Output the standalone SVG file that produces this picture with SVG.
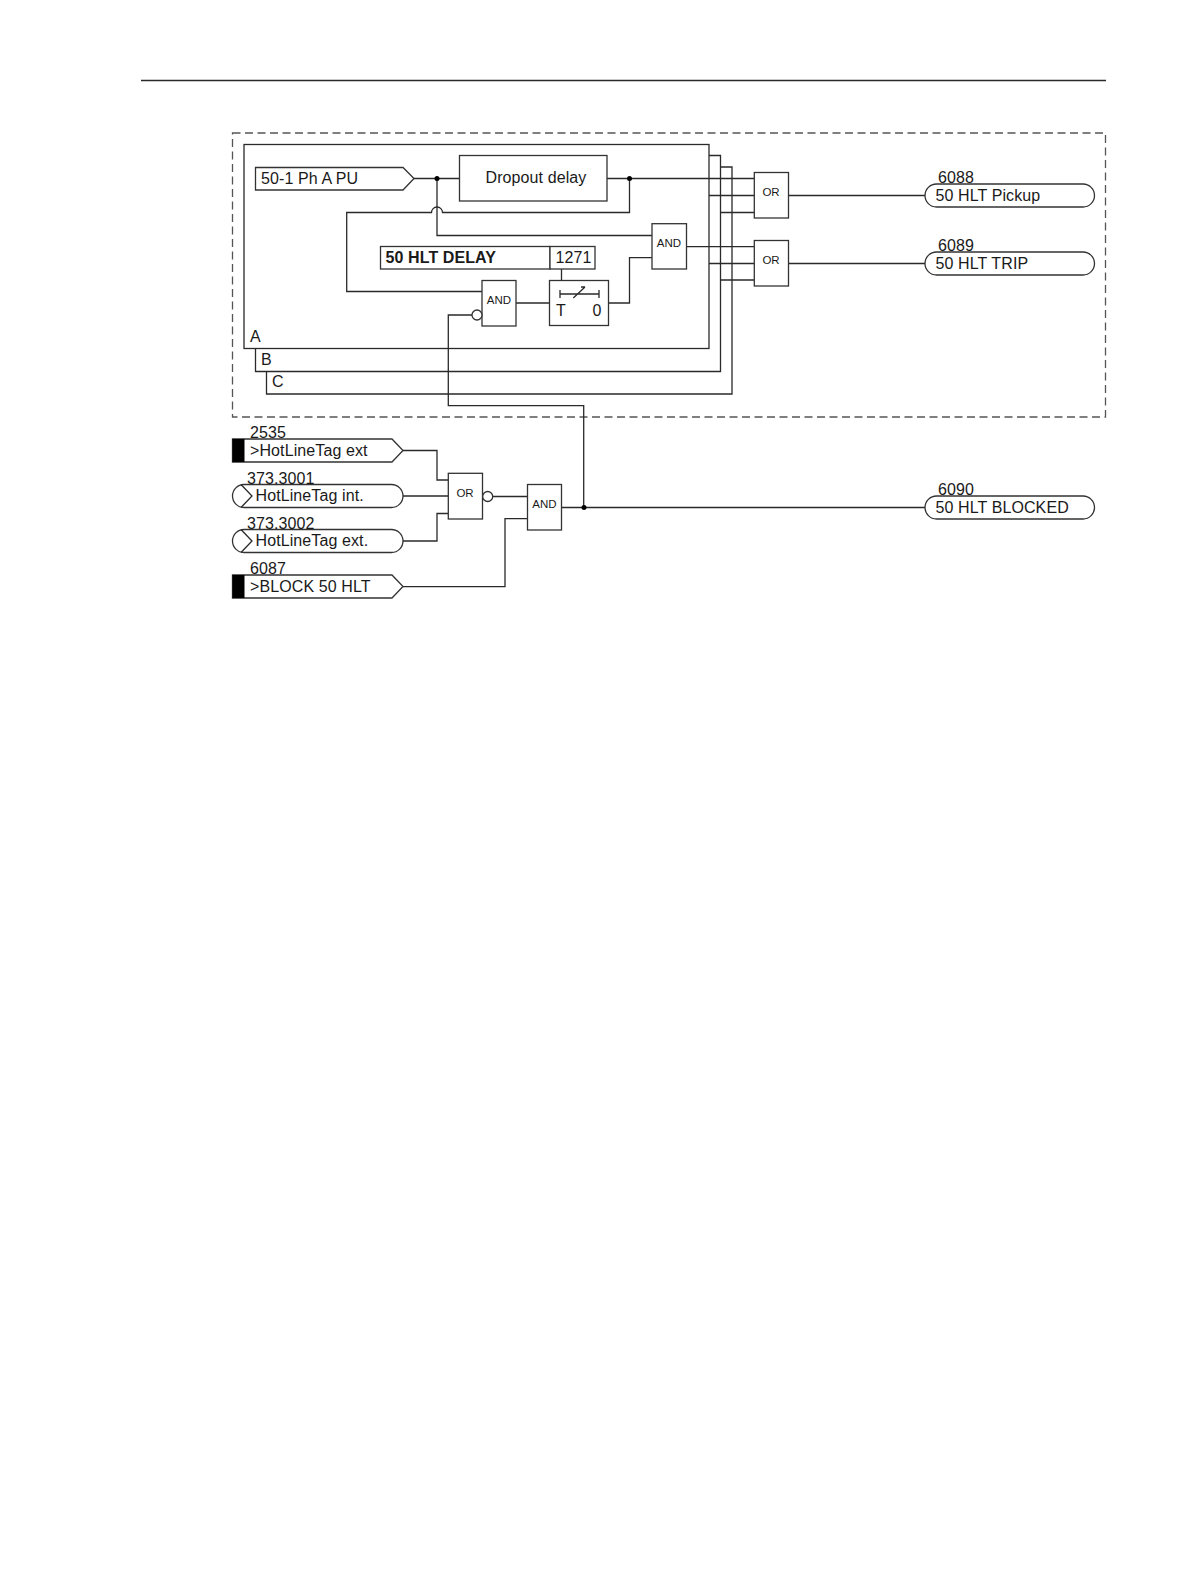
<svg xmlns="http://www.w3.org/2000/svg" width="1191" height="1587" viewBox="0 0 1191 1587">
<defs><style>
.s{fill:none;stroke:#2a2a2a;stroke-width:1.3}
.b{fill:#fff;stroke:#333;stroke-width:1.3}
.t{font-family:"Liberation Sans",Arial,sans-serif;font-size:16px;letter-spacing:.1px;fill:#1a1a1a}
.g{font-family:"Liberation Sans",Arial,sans-serif;font-size:11.5px;fill:#1a1a1a;text-anchor:middle}
.d{fill:#000}
</style></defs>
<rect width="1191" height="1587" fill="#fff"/>
<path id="header-rule" class="s" d="M141 80.500H1106"/>
<rect id="scope" x="232.500" y="133" width="873" height="284" fill="none" stroke="#555" stroke-width="1.300" stroke-dasharray="8 4.500"/>
<g id="phase-frames">
<path class="s" d="M709 155.500H720.500V371.500H255.500V348.500"/>
<path class="s" d="M720.500 167H732V394H266.500V371.500"/>
<rect class="s" x="244" y="144.500" width="465" height="204"/>
<text class="t" x="250" y="342">A</text><text class="t" x="261" y="365">B</text><text class="t" x="272" y="387">C</text>
</g>
<g id="connectors">
<path class="s" d="M414 178.500H459.500"/>
<path class="s" d="M437 178.500V235.500H652"/>
<path class="s" d="M607 178.500H754.300"/>
<path class="s" d="M629.500 178.500V212.500H442.500A5.500 5.500 0 0 0 431.500 212.500H346.700V291.500H482"/>
<path class="s" d="M709 195.500H754.300M720.500 212.500H754.300"/>
<path class="s" d="M686.500 246.700H754.300M709 263.500H754.300M720.500 280H754.300"/>
<path class="s" d="M788.500 195.500H925M788.500 263.500H925"/>
<path class="s" d="M561.500 269V280.500M516 303H549.500"/>
<path class="s" d="M608.500 303H629.500V257.700H652"/>
<path class="s" d="M472 315H448.300V405.700H583.700V507.500"/>
<path class="s" d="M403 450.500H437V480H448.300M403 496H448.300M403 541H437V513.500H448.300"/>
<path class="s" d="M493 496.500H527.500M403 586.700H505V518.700H527.500"/>
<path class="s" d="M561.500 507.500H925"/>
<circle class="d" cx="437" cy="178.500" r="2.500"/><circle class="d" cx="629.500" cy="178.500" r="2.500"/><circle class="d" cx="584" cy="507.500" r="2.500"/>
</g>
<g id="in-pickup"><path class="b" d="M255.500 167.500H403L414 178.500L403 190H255.500Z"/><text class="t" x="261" y="184">50-1 Ph A PU</text></g>
<g id="dropout"><rect class="b" x="459.500" y="155.500" width="147.500" height="45.500"/><text class="t" x="536" y="183" text-anchor="middle">Dropout delay</text></g>
<g id="delay-setting"><rect class="b" x="380.500" y="246.500" width="169.500" height="22.500"/><rect class="b" x="550" y="246.500" width="45" height="22.500"/><text class="t" x="385.500" y="263" font-weight="700">50 HLT DELAY</text><text class="t" x="555.500" y="263">1271</text></g>
<g id="and1"><rect class="b" x="482" y="280.500" width="34" height="45.500"/><text class="g" x="499" y="304">AND</text><circle class="b" cx="477" cy="315" r="5"/></g>
<g id="timer"><rect class="b" x="549.500" y="280.500" width="59" height="45"/><path class="s" d="M560 294H599M560 290V298M599 290V298M573.300 298L585 287M581 287H585"/><text class="t" x="556" y="316">T</text><text class="t" x="592.500" y="316">0</text></g>
<g id="and2"><rect class="b" x="652" y="223.700" width="34.500" height="45.300"/><text class="g" x="669" y="247">AND</text></g>
<g id="or1"><rect class="b" x="754.300" y="172.500" width="34.200" height="45.500"/><text class="g" x="771" y="196">OR</text></g>
<g id="or2"><rect class="b" x="754.300" y="240.500" width="34.200" height="45.500"/><text class="g" x="771" y="264">OR</text></g>
<g id="out-6088"><rect class="b" x="925" y="184" width="169.500" height="23" rx="11.500"/><text class="t" x="938" y="183">6088</text><text class="t" x="935.500" y="201">50 HLT Pickup</text></g>
<g id="out-6089"><rect class="b" x="925" y="252" width="169.500" height="23" rx="11.500"/><text class="t" x="938" y="251">6089</text><text class="t" x="935.500" y="269">50 HLT TRIP</text></g>
<g id="out-6090"><rect class="b" x="925" y="496" width="169.500" height="23" rx="11.500"/><text class="t" x="938" y="495">6090</text><text class="t" x="935.500" y="512.500">50 HLT BLOCKED</text></g>
<g id="in-2535"><path class="b" d="M232.500 439H392L403 450.500L392 462H232.500Z"/><rect class="d" x="232.500" y="439" width="12" height="23"/><text class="t" x="250" y="438">2535</text><text class="t" x="250" y="456">&gt;HotLineTag ext</text></g>
<g id="in-3001"><rect class="b" x="232.500" y="484.500" width="170.500" height="23" rx="11.500"/><path class="s" d="M241 484.500L252 496L241 507.500"/><text class="t" x="247" y="484">373.3001</text><text class="t" x="255.500" y="501">HotLineTag int.</text></g>
<g id="in-3002"><rect class="b" x="232.500" y="529.500" width="170.500" height="23" rx="11.500"/><path class="s" d="M241 529.500L252 541L241 552.500"/><text class="t" x="247" y="529">373.3002</text><text class="t" x="255.500" y="546">HotLineTag ext.</text></g>
<g id="in-6087"><path class="b" d="M232.500 575H392L403 586.500L392 598H232.500Z"/><rect class="d" x="232.500" y="575" width="12" height="23"/><text class="t" x="250" y="574">6087</text><text class="t" x="250" y="592">&gt;BLOCK 50 HLT</text></g>
<g id="or3"><rect class="b" x="448.300" y="473.300" width="34.200" height="45.700"/><text class="g" x="465" y="497">OR</text><circle class="b" cx="487.700" cy="496.500" r="5"/></g>
<g id="and3"><rect class="b" x="527.500" y="484.500" width="34" height="45.500"/><text class="g" x="544.500" y="508">AND</text></g>
</svg>
